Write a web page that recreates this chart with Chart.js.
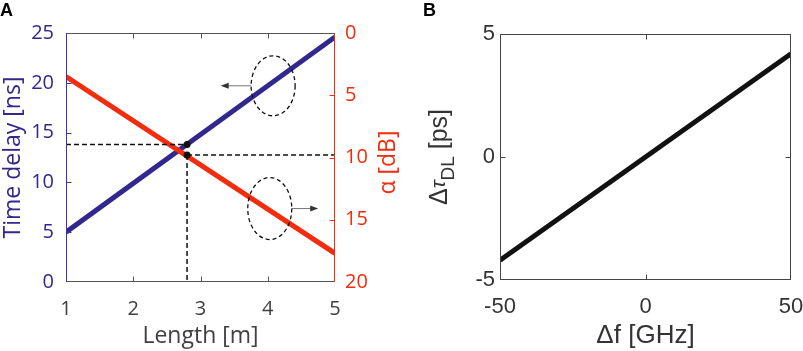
<!DOCTYPE html>
<html>
<head>
<meta charset="utf-8">
<script src="https://cdn.jsdelivr.net/npm/chart.js@4.4.1/dist/chart.umd.min.js"></script>
<style>
  html, body { margin: 0; padding: 0; background: #fff; }
  #wrap { position: relative; width: 803px; height: 351px; overflow: hidden; }
  .panel { position: absolute; top: 0; height: 351px; }
  #panelA { left: 0; width: 400px; }
  #panelB { left: 400px; width: 403px; }
  .tag { position: absolute; top: 1px; font: bold 18px/18px "Liberation Sans", Arial, sans-serif; color: #000; }
</style>
</head>
<body>
<div id="wrap">
  <div class="panel" id="panelA"><canvas id="chartA" width="400" height="351"></canvas></div>
  <div class="panel" id="panelB"><canvas id="chartB" width="403" height="351"></canvas></div>
  <div class="tag" style="left:0px">A</div>
  <div class="tag" style="left:423px">B</div>
</div>
<script>
  // Panel A: time delay and loss vs length
  const lengths = [1, 5];
  const delayNs = [5.0, 24.6];
  const lossDb = [3.5, 17.7];
  const lengthTicks = [1, 2, 3, 4, 5];
  const delayTicks = [0, 5, 10, 15, 20, 25];
  const lossTicks = [0, 5, 10, 15, 20];

  // punto marcado
  const markLength = 2.8;
  const markDelay = 13.8;
  const markLoss = 9.8;

  // Panel B: delay change vs frequency offset
  const freqGHz = [-50, 50];
  const dTauPs = [-4.2, 4.2];
  const freqTicks = [-50, 0, 50];
  const dTauTicks = [-5, 0, 5];

  const BLUE = '#32278e';
  const RED = '#f22c0c';
  const GREY = '#404040';
  const FONT_A = '"Open Sans", sans-serif';
  const FONT_B = '"Liberation Sans", Arial, sans-serif';

  // titulos verticales (se dibujan a mano por el subindice y la orientacion)
  const titleA = {
    x: 388, dy: 5, color: RED,
    parts: [{ text: 'α [dB]', font: '23px ' + FONT_A, shift: 0 }]
  };
  const titleB = {
    x: 40, dy: 0, color: '#333',
    parts: [
      { text: 'Δ', font: '25px ' + FONT_B, shift: 0 },
      { text: 'τ', font: 'italic 21px ' + FONT_B, shift: -1 },
      { text: 'DL', font: '19px ' + FONT_B, shift: 9 },
      { text: ' [ps]', font: '25px ' + FONT_B, shift: 0 }
    ]
  };

  // tamaño fijo del eje, sin el relleno extra de las etiquetas extremas
  function fixSize(size) {
    return function(scale) {
      if (scale.isHorizontal()) scale.height = size;
      else scale.width = size;
      scale.paddingLeft = 0;
      scale.paddingRight = 0;
      scale.paddingTop = 0;
      scale.paddingBottom = 0;
    };
  }

  function useTicks(values) {
    return function(scale) {
      scale.ticks = values.map(v => ({ value: v }));
    };
  }

  function pairs(xs, ys) {
    return xs.map((x, i) => ({ x: x, y: ys[i] }));
  }

  // marco tipo MATLAB con ticks hacia adentro
  function innerFrame(edges) {
    return {
      id: 'innerFrame',
      afterDatasetsDraw(chart) {
        const ctx = chart.ctx;
        const a = chart.chartArea;
        const len = 5;
        ctx.save();
        ctx.lineWidth = 1;
        edges.forEach(e => {
          ctx.strokeStyle = e.color;
          ctx.beginPath();
          const sc = chart.scales[e.scale];
          if (e.side === 'top' || e.side === 'bottom') {
            const y = e.side === 'top' ? Math.round(a.top) + 0.5 : Math.round(a.bottom) - 0.5;
            const d = e.side === 'top' ? len : -len;
            ctx.moveTo(a.left, y);
            ctx.lineTo(a.right, y);
            e.values.forEach(v => {
              const x = Math.round(sc.getPixelForValue(v)) + 0.5;
              ctx.moveTo(x, y);
              ctx.lineTo(x, y + d);
            });
          } else {
            const x = e.side === 'left' ? Math.round(a.left) + 0.5 : Math.round(a.right) - 0.5;
            const d = e.side === 'left' ? len : -len;
            ctx.moveTo(x, a.top);
            ctx.lineTo(x, a.bottom);
            e.values.forEach(v => {
              const y = Math.round(sc.getPixelForValue(v)) + 0.5;
              ctx.moveTo(x, y);
              ctx.lineTo(x + d, y);
            });
          }
          ctx.stroke();
        });
        ctx.restore();
      }
    };
  }

  function sideTitle(t) {
    return {
      id: 'sideTitle',
      afterDraw(chart) {
        const ctx = chart.ctx;
        const a = chart.chartArea;
        ctx.save();
        const widths = t.parts.map(p => {
          ctx.font = p.font;
          return ctx.measureText(p.text).width;
        });
        const total = widths.reduce((s, w) => s + w, 0);
        ctx.translate(t.x, (a.top + a.bottom) / 2 + t.dy);
        ctx.rotate(-Math.PI / 2);
        ctx.fillStyle = t.color;
        ctx.textBaseline = 'middle';
        ctx.textAlign = 'left';
        let x = -total / 2;
        t.parts.forEach((p, i) => {
          ctx.font = p.font;
          ctx.fillText(p.text, x, p.shift);
          x += widths[i];
        });
        ctx.restore();
      }
    };
  }

  // elipses y flechas que indican el eje de cada curva
  const ellipseNotes = [
    { x: 4.08, y: 19.7, axis: 'y', rx: 22, ry: 30, arrowTo: 3.3 },
    { x: 4.03, y: 14.1, axis: 'y1', rx: 22, ry: 31, arrowTo: 4.75 }
  ];

  const ellipsePlugin = {
    id: 'ellipseNotes',
    afterDatasetsDraw(chart) {
      const ctx = chart.ctx;
      const xs = chart.scales.x;
      ctx.save();
      ellipseNotes.forEach(n => {
        const cx = xs.getPixelForValue(n.x);
        const cy = chart.scales[n.axis].getPixelForValue(n.y);
        ctx.strokeStyle = '#111';
        ctx.lineWidth = 1.3;
        ctx.setLineDash([4, 3]);
        ctx.beginPath();
        ctx.ellipse(cx, cy, n.rx, n.ry, 0, 0, Math.PI * 2);
        ctx.stroke();

        const tx = xs.getPixelForValue(n.arrowTo);
        const dir = tx < cx ? -1 : 1;
        const sx = cx + dir * n.rx;
        ctx.setLineDash([]);
        ctx.strokeStyle = '#777';
        ctx.lineWidth = 1;
        ctx.beginPath();
        ctx.moveTo(sx, cy);
        ctx.lineTo(tx - dir * 6, cy);
        ctx.stroke();
        ctx.fillStyle = '#333';
        ctx.beginPath();
        ctx.moveTo(tx, cy);
        ctx.lineTo(tx - dir * 8, cy - 3);
        ctx.lineTo(tx - dir * 8, cy + 3);
        ctx.closePath();
        ctx.fill();
      });
      ctx.restore();
    }
  };

  const noGrid = { display: false, drawTicks: false };
  const dashed = { borderColor: '#111', borderWidth: 1.5, borderDash: [5, 3], pointRadius: 0, fill: false };
  const dot = { type: 'scatter', pointRadius: 3.5, pointBackgroundColor: '#111', pointBorderWidth: 0 };

  new Chart(document.getElementById('chartA'), {
    type: 'line',
    data: {
      datasets: [
        Object.assign({ data: [{ x: markLength, y: markDelay }], yAxisID: 'y' }, dot),
        Object.assign({ data: [{ x: markLength, y: markLoss }], yAxisID: 'y1' }, dot),
        Object.assign({ data: [{ x: lengths[0], y: markDelay }, { x: markLength, y: markDelay }], yAxisID: 'y' }, dashed),
        Object.assign({ data: [{ x: markLength, y: markLoss }, { x: lengths[1], y: markLoss }], yAxisID: 'y1' }, dashed),
        Object.assign({ data: [{ x: markLength, y: markLoss }, { x: markLength, y: lossTicks[lossTicks.length - 1] }], yAxisID: 'y1' }, dashed),
        {
          label: 'alpha',
          data: pairs(lengths, lossDb),
          yAxisID: 'y1',
          borderColor: RED,
          borderWidth: 5,
          pointRadius: 0
        },
        {
          label: 'Time delay',
          data: pairs(lengths, delayNs),
          yAxisID: 'y',
          borderColor: BLUE,
          borderWidth: 5,
          pointRadius: 0
        }
      ]
    },
    options: {
      responsive: false,
      animation: false,
      layout: { padding: { top: 33, left: 0, right: 0, bottom: 0 } },
      plugins: {
        legend: { display: false },
        tooltip: { enabled: false }
      },
      scales: {
        x: {
          type: 'linear',
          min: 1,
          max: 5,
          afterBuildTicks: useTicks(lengthTicks),
          afterFit: fixSize(69),
          grid: noGrid,
          border: { display: false },
          ticks: { color: GREY, font: { family: FONT_A, size: 20 }, padding: 15, maxRotation: 0 },
          title: { display: true, text: 'Length [m]', color: GREY, font: { family: FONT_A, size: 23 }, padding: { top: 0, bottom: 1 } }
        },
        y: {
          type: 'linear',
          position: 'left',
          min: 0,
          max: 25,
          afterBuildTicks: useTicks(delayTicks),
          afterFit: fixSize(66),
          grid: noGrid,
          border: { display: false },
          ticks: { color: BLUE, font: { family: FONT_A, size: 20 }, padding: 12 },
          title: { display: true, text: 'Time delay [ns]', color: BLUE, font: { family: FONT_A, size: 23 }, padding: { top: 0, bottom: 0 } }
        },
        y1: {
          type: 'linear',
          position: 'right',
          reverse: true,
          min: 0,
          max: 20,
          afterBuildTicks: useTicks(lossTicks),
          afterFit: fixSize(65),
          grid: noGrid,
          border: { display: false },
          ticks: { color: RED, font: { family: FONT_A, size: 20 }, padding: 10 }
        }
      }
    },
    plugins: [
      innerFrame([
        { side: 'top', color: '#555', scale: 'x', values: [2, 3, 4] },
        { side: 'bottom', color: '#555', scale: 'x', values: [2, 3, 4] },
        { side: 'left', color: '#3b35a0', scale: 'y', values: [5, 10, 15, 20] },
        { side: 'right', color: RED, scale: 'y1', values: [5, 10, 15] }
      ]),
      ellipsePlugin,
      sideTitle(titleA)
    ]
  });

  new Chart(document.getElementById('chartB'), {
    type: 'line',
    data: {
      datasets: [{
        label: 'delta tau',
        data: pairs(freqGHz, dTauPs),
        borderColor: '#111',
        borderWidth: 5,
        pointRadius: 0
      }]
    },
    options: {
      responsive: false,
      animation: false,
      layout: { padding: { top: 34, left: 0, right: 12, bottom: 0 } },
      plugins: {
        legend: { display: false },
        tooltip: { enabled: false }
      },
      scales: {
        x: {
          type: 'linear',
          min: -50,
          max: 50,
          afterBuildTicks: useTicks(freqTicks),
          afterFit: fixSize(71),
          grid: noGrid,
          border: { display: false },
          ticks: { color: '#333', font: { family: FONT_B, size: 22 }, padding: 14, maxRotation: 0 },
          title: { display: true, text: 'Δf [GHz]', color: '#333', font: { family: FONT_B, size: 26 }, padding: { top: 0, bottom: 0 } }
        },
        y: {
          type: 'linear',
          min: -5,
          max: 5,
          afterBuildTicks: useTicks(dTauTicks),
          afterFit: fixSize(100),
          grid: noGrid,
          border: { display: false },
          ticks: { color: '#333', font: { family: FONT_B, size: 22 }, padding: 5 }
        }
      }
    },
    plugins: [
      innerFrame([
        { side: 'top', color: '#444', scale: 'x', values: [0] },
        { side: 'bottom', color: '#444', scale: 'x', values: [0] },
        { side: 'left', color: '#444', scale: 'y', values: [0] },
        { side: 'right', color: '#444', scale: 'y', values: [0] }
      ]),
      sideTitle(titleB)
    ]
  });
</script>
</body>
</html>
